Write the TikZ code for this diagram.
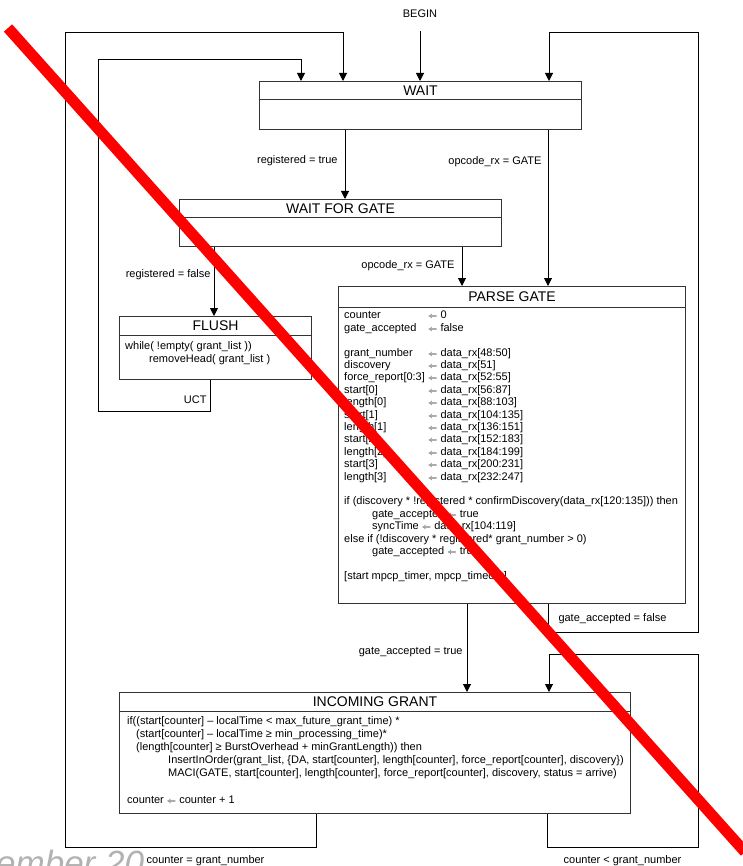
\documentclass[tikz,border=0pt]{standalone}
\usepackage{fontspec}
\setmainfont{Liberation Sans}
\usetikzlibrary{arrows.meta}
\newcommand{\lassign}{\scalebox{0.85}[0.75]{$\Leftarrow$}}
\newcommand{\asg}[2]{\makebox[84pt][l]{#1}\lassign\ #2}

\begin{document}
\begin{tikzpicture}[x=1pt,y=-1pt,
        statebox/.style={draw=black!80,line width=1pt,anchor=north west,inner sep=0pt},
        headline/.style={draw=black!80,line width=1pt},
        titletext/.style={font=\fontsize{14}{16}\selectfont,inner sep=0pt},
        bodytext/.style={anchor=north west,align=left,inner sep=0pt},
        cond/.style={font=\fontsize{11}{13}\selectfont,inner sep=0pt},
        flow/.style={line width=1pt,-{Triangle[width=8pt,length=8pt]}},
        back/.style={line width=1pt}]
    \useasboundingbox (0,0) rectangle (742,866);

    % watermark, cut by the page edge
    \node[anchor=base west,inner sep=0pt,text=black!30,font=\fontsize{35}{35}\selectfont\itshape] (stamp) at (-4,875) {ember 20};

    % states
    \node[statebox,minimum width=322pt,minimum height=48pt] (wait) at (259,81) {};
    \node[statebox,minimum width=322pt,minimum height=47pt] (wfg) at (179,199) {};
    \node[statebox,minimum width=192pt,minimum height=63pt] (flush) at (119,316) {};
    \node[statebox,minimum width=347pt,minimum height=317pt] (parse) at (338,286) {};
    \node[statebox,minimum width=511pt,minimum height=121pt] (incoming) at (119,692) {};
    \foreach \s/\h in {wait/19,wfg/19,flush/19,parse/21,incoming/19}
        \draw[headline] ([yshift=-\h pt]\s.north west) -- ([yshift=-\h pt]\s.north east);

    \node[titletext] (wait title) at ([yshift=-9.5pt]wait.north) {WAIT};
    \node[titletext] (wfg title) at ([yshift=-9.5pt]wfg.north) {WAIT FOR GATE};
    \node[titletext] (flush title) at ([yshift=-9.5pt]flush.north) {FLUSH};
    \node[titletext] (parse title) at ([yshift=-10.5pt]parse.north) {PARSE GATE};
    \node[titletext] (incoming title) at ([yshift=-9.5pt]incoming.north) {INCOMING GRANT};

    \node[bodytext,font=\fontsize{11}{13}\selectfont] (flush body) at (125,341) {%
        while( !empty( grant\_list ))\\
        \hspace*{24pt}removeHead( grant\_list )};
    \node[bodytext,font=\fontsize{11}{12.4}\selectfont] (parse body) at (344,311) {%
        \asg{counter}{0}\\
        \asg{gate\_accepted}{false}\\[12.4pt]
        \asg{grant\_number}{data\_rx[48:50]}\\
        \asg{discovery}{data\_rx[51]}\\
        \asg{force\_report[0:3]}{data\_rx[52:55]}\\
        \asg{start[0]}{data\_rx[56:87]}\\
        \asg{length[0]}{data\_rx[88:103]}\\
        \asg{start[1]}{data\_rx[104:135]}\\
        \asg{length[1]}{data\_rx[136:151]}\\
        \asg{start[2]}{data\_rx[152:183]}\\
        \asg{length[2]}{data\_rx[184:199]}\\
        \asg{start[3]}{data\_rx[200:231]}\\
        \asg{length[3]}{data\_rx[232:247]}\\[12.4pt]
        if (discovery * !registered * confirmDiscovery(data\_rx[120:135])) then\\
        \hspace*{28pt}gate\_accepted \lassign\ true\\
        \hspace*{28pt}syncTime \lassign\ data\_rx[104:119]\\
        else if (!discovery * registered* grant\_number > 0)\\
        \hspace*{28pt}gate\_accepted \lassign\ true\\[12.4pt]
        [start mpcp\_timer, mpcp\_timeout]};
    \node[bodytext,font=\fontsize{11}{13.2}\selectfont] (incoming body) at (127,716) {%
        if((start[counter] – localTime < max\_future\_grant\_time) *\\
        \hspace*{9pt}(start[counter] – localTime ≥ min\_processing\_time)*\\
        \hspace*{9pt}(length[counter] ≥ BurstOverhead + minGrantLength)) then\\
        \hspace*{41pt}InsertInOrder(grant\_list, \{DA, start[counter], length[counter], force\_report[counter], discovery\})\\
        \hspace*{41pt}MACI(GATE, start[counter], length[counter], force\_report[counter], discovery, status = arrive)\\[13.2pt]
        counter \lassign\ counter + 1};

    % corners of the return loops
    \coordinate (outer tl) at (65,33);
    \coordinate (outer bl) at (65,847);
    \coordinate (inner tl) at (98,60);
    \coordinate (inner bl) at (98,411);
    \coordinate (right top) at (698,33);
    \coordinate (right mid) at (698,632);
    \coordinate (loop top) at (698,654);
    \coordinate (loop bot) at (698,847);

    % transitions
    \node[cond] (begin) at (420,14) {BEGIN};
    \draw[flow] ([yshift=-13pt]begin.south) -- (begin |- wait.north);
    \draw[flow] ([xshift=86pt]wait.south west) -- node[cond,pos=.44,left=7pt] {registered = true} ([xshift=86pt]wait.south west |- wfg.north);
    \draw[flow] ([xshift=289pt]wait.south west) -- node[cond,pos=.2,left=6pt] {opcode\_rx = GATE} ([xshift=289pt]wait.south west |- parse.north);
    \draw[flow] ([xshift=283pt]wfg.south west) -- node[cond,pos=.475,left=7pt] {opcode\_rx = GATE} ([xshift=283pt]wfg.south west |- parse.north);
    \draw[flow] ([xshift=35pt]wfg.south west) -- node[cond,pos=.4,left=3pt] {registered = false} ([xshift=35pt]wfg.south west |- flush.north);
    \draw[flow] ([xshift=91pt]flush.south west) |- node[cond,pos=.31,left=3pt] {UCT} (inner bl) -- (inner tl) -| ([xshift=42pt]wait.north west);
    \draw[flow] ([xshift=129pt]parse.south west) -- node[cond,pos=.54,left=4pt] {gate\_accepted = true} ([xshift=129pt]parse.south west |- incoming.north);
    \draw[flow] ([xshift=210pt]parse.south west) |- node[cond,pos=.26,right=10pt] {gate\_accepted = false} (right mid) -- (right top) -| ([xshift=290pt]wait.north west);
    \draw[flow] ([xshift=197pt]incoming.south west) |- node[cond,pos=.72,below=8pt] {counter = grant\_number} (outer bl) -- (outer tl) -| ([xshift=84pt]wait.north west);
    \draw[flow] ([xshift=428pt]incoming.south west) |- node[cond,pos=.75,below=8pt] {counter < grant\_number} (loop bot) -- (loop top) -| ([xshift=430pt]incoming.north west);

    % crossing-out stroke
    \draw[red,line width=11pt] (8,28) -- (745,852);
\end{tikzpicture}
\end{document}
